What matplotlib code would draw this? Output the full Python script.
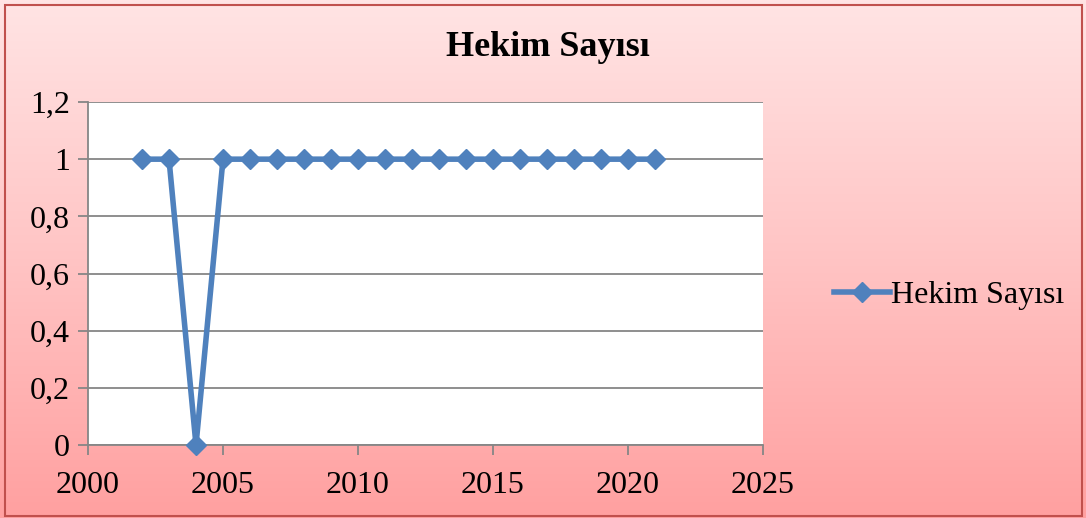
import numpy as np
import matplotlib
matplotlib.use("Agg")
import matplotlib.pyplot as plt
from matplotlib.patches import Rectangle
from matplotlib.colors import LinearSegmentedColormap

years = [2002, 2003, 2004, 2005, 2006, 2007, 2008, 2009, 2010, 2011,
         2012, 2013, 2014, 2015, 2016, 2017, 2018, 2019, 2020, 2021]
values = [1, 1, 0, 1, 1, 1, 1, 1, 1, 1, 1, 1, 1, 1, 1, 1, 1, 1, 1, 1]
series_name = "Hekim Sayısı"
title = "Hekim Sayısı"
x_ticks = [2000, 2005, 2010, 2015, 2020, 2025]
y_ticks = [0, 0.2, 0.4, 0.6, 0.8, 1, 1.2]
y_labels = ["0", "0,2", "0,4", "0,6", "0,8", "1", "1,2"]

W, H = 1086, 518
fig = plt.figure(figsize=(W / 100, H / 100), dpi=100)
plt.rcParams['font.family'] = ['Liberation Serif', 'DejaVu Serif']

# background gradient
bg = fig.add_axes([0, 0, 1, 1], zorder=-10)
cmap = LinearSegmentedColormap.from_list("g", ["#FFE4E4", "#FFC4C4", "#FFA0A0"])
grad = np.linspace(0, 1, 256).reshape(-1, 1)
bg.imshow(grad, aspect="auto", cmap=cmap, extent=[0, 1, 0, 1], origin="upper")
bg.add_patch(Rectangle((5 / W, 2 / H), (W - 9) / W, (H - 7) / H, fill=False,
                       edgecolor="#C0504D", linewidth=1.5, transform=bg.transAxes))
bg.set_xlim(0, 1)
bg.set_ylim(0, 1)
bg.axis("off")

# plot area: x 88-763, y 102-445
ax = fig.add_axes([88 / W, (H - 445) / H, (763 - 88) / W, (445 - 102) / H])
ax.set_facecolor("white")
ax.plot(years, values, color="#4F81BD", linewidth=4, marker="D", markersize=10,
        markeredgecolor="#4F81BD", label=series_name, clip_on=False, zorder=3)
ax.set_xlim(2000, 2025)
ax.set_ylim(0, 1.2)
ax.set_xticks(x_ticks)
ax.set_yticks(y_ticks)
ax.set_yticklabels(y_labels)
ax.grid(axis="y", color="#868686", linewidth=1.3)
ax.set_axisbelow(True)
for s in ["top", "right"]:
    ax.spines[s].set_visible(False)
for s in ["left", "bottom"]:
    ax.spines[s].set_color("#868686")
    ax.spines[s].set_linewidth(1.3)
ax.tick_params(axis="both", colors="#868686", length=7, width=1.3,
               labelcolor="black", labelsize=23)
ax.tick_params(axis="x", pad=12)
ax.tick_params(axis="y", pad=6)

fig.text(548 / W, 1 - 47 / H, title, ha="center", va="center",
         fontsize=26, fontweight="bold")

leg = fig.legend(loc="center left", bbox_to_anchor=(821 / W, 1 - 295 / H),
                 frameon=False, fontsize=23, handlelength=1.75, handletextpad=0.05,
                 borderaxespad=0)

fig.savefig("out.png", dpi=100)
